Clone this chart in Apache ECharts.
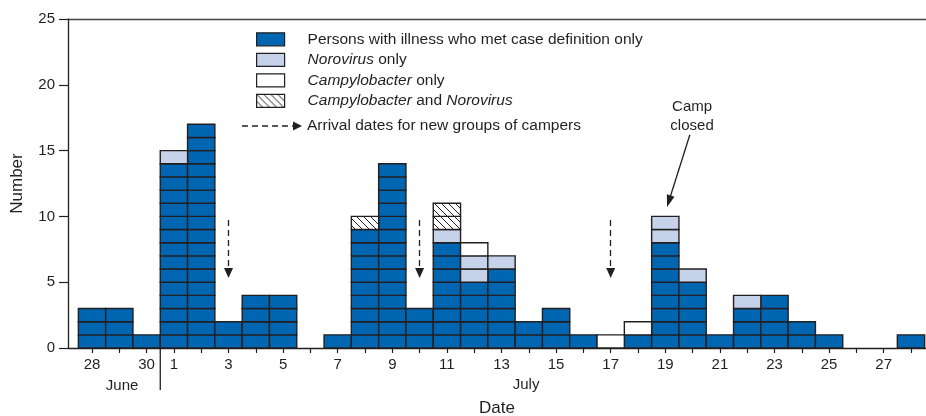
<!DOCTYPE html>
<html><head><meta charset="utf-8">
<script src="https://cdn.jsdelivr.net/npm/echarts@6/dist/echarts.min.js"></script>
<style>html,body{margin:0;padding:0;background:#fff}#c{width:926px;height:416px}</style>
</head><body><div id="c"></div>
<script>
// ---- data (index 0 = June 28 ... index 30 = July 28) ----
const dayLabels = ['28','29','30','1','2','3','4','5','6','7','8','9','10','11','12','13','14','15','16','17','18','19','20','21','22','23','24','25','26','27','28'];
const labelledDays = [0,2,3,5,7,9,11,13,15,17,19,21,23,25,27,29];
const caseOnly      = [3,3,1,14,17,2,4,4,0,1,9,14,3,8,5,6,2,3,1,0,1,8,5,1,3,4,2,1,0,0,1];
const norovirusOnly = [0,0,0,1,0,0,0,0,0,0,0,0,0,1,2,1,0,0,0,0,0,2,1,0,1,0,0,0,0,0,0];
const campyNoro     = [0,0,0,0,0,0,0,0,0,0,1,0,0,2,0,0,0,0,0,0,0,0,0,0,0,0,0,0,0,0,0];
const campyOnly     = [0,0,0,0,0,0,0,0,0,0,0,0,0,0,1,0,0,0,0,1,1,0,0,0,0,0,0,0,0,0,0];
const arrivalDays = [5,12,19];       // July 3, 10, 17
const campClosedDay = 21;            // July 19
const yTicks = {min:0, max:25, interval:5};

const INK = '#231f20';
const FONT = 'Liberation Sans, Arial, Helvetica, sans-serif';
const BLUE = '#0066b2';
const LIGHT = '#c6d2ea';
const LEGEND_FS = 15.5;

function hatchCanvas(){
  const s = 7, c = document.createElement('canvas'); c.width = s; c.height = s;
  const g = c.getContext('2d'); g.fillStyle = '#fff'; g.fillRect(0,0,s,s);
  g.strokeStyle = INK; g.lineWidth = 1;
  g.beginPath(); g.moveTo(0,0); g.lineTo(s,s); g.moveTo(-2,s-2); g.lineTo(2,s+2); g.moveTo(s-2,-2); g.lineTo(s+2,2); g.stroke();
  return c;
}
const HATCH = {image: hatchCanvas(), repeat: 'repeat'};

const layers = [
  {name:'Persons with illness who met case definition only', values: caseOnly, fill: BLUE},
  {name:'Norovirus only', values: norovirusOnly, fill: LIGHT},
  {name:'Campylobacter and Norovirus', values: campyNoro, fill: HATCH},
  {name:'Campylobacter only', values: campyOnly, fill: '#fff'}
];
const base = caseOnly.map(() => 0);
const series = layers.map((L, li) => {
  const data = [];
  L.values.forEach((n, i) => { if (n > 0) data.push([i, n, base[i]]); base[i] += n; });
  return {
    type: 'custom', name: L.name, data: data,
    itemStyle: {color: L.fill === HATCH ? '#fff' : L.fill},
    renderItem: function(params, api){
      const i = api.value(0), n = api.value(1), b = api.value(2);
      const w = api.size([1, 0])[0];
      const ch = [];
      for (let k = 0; k < n; k++) {
        const p0 = api.coord([i, b + k]), p1 = api.coord([i, b + k + 1]);
        ch.push({type:'rect', shape:{x: p0[0] - w/2, y: p1[1], width: w, height: p0[1] - p1[1]},
          style:{fill: L.fill, stroke: INK, lineWidth: 1.4}});
      }
      return {type:'group', children: ch};
    }
  };
});
// arrival arrows
series[0].markLine = {
  silent: true, animation: false, symbol: ['none','triangle'], symbolSize: [9,10],
  label: {show:false},
  lineStyle: {type:[6,4], color: INK, width: 1.3},
  data: arrivalDays.map(d => [{coord:[d, 9.73]}, {coord:[d, 5.7]}])
};
// camp closed arrow
series[1].markLine = {
  silent: true, animation: false, symbol: ['none','triangle'], symbolSize: [8,12],
  label: {show:false},
  lineStyle: {type:'solid', color: INK, width: 1.3},
  data: [[{coord:[campClosedDay + 0.9, 16.2]}, {coord:[campClosedDay + 0.13, 11.15]}]]
};

const chart = echarts.init(document.getElementById('c'));
const option = {
  animation: false,
  textStyle: {fontFamily: FONT, color: INK},
  grid: {left: 68, right: 0, top: 19, bottom: 68, containLabel: false, outerBoundsMode: 'none'},
  legend: {
    orient: 'vertical', left: 256, top: 31.3, padding: 0, itemWidth: 28, itemHeight: 13, itemGap: 4.5,
    icon: 'rect', selectedMode: false,
    data: [
      {name: layers[0].name, itemStyle:{color: BLUE, borderColor: INK, borderWidth: 1.2}},
      {name: layers[1].name, itemStyle:{color: LIGHT, borderColor: INK, borderWidth: 1.2}},
      {name: layers[3].name, itemStyle:{color: '#fff', borderColor: INK, borderWidth: 1.2}},
      {name: layers[2].name, itemStyle:{color: HATCH, borderColor: INK, borderWidth: 1.2}}
    ],
    formatter: function(name){
      const m = {'Norovirus only':'{i|Norovirus} only', 'Campylobacter only':'{i|Campylobacter} only',
        'Campylobacter and Norovirus':'{i|Campylobacter} and {i|Norovirus}'};
      return m[name] || name;
    },
    textStyle: {fontSize: LEGEND_FS, color: INK, fontFamily: FONT, lineHeight: 13, padding: [0,0,0,18],
      rich: {i: {fontStyle: 'italic', fontSize: LEGEND_FS, color: INK, fontFamily: FONT, lineHeight: 13}}}
  },
  xAxis: [{
    type: 'value', min: -0.88, max: 30.55, position: 'bottom',
    name: 'Date', nameLocation: 'middle', nameGap: 52, nameTextStyle: {fontSize: 17, color: INK},
    axisLine: {show: true, onZero: false, lineStyle: {color: INK, width: 1.3}},
    axisTick: {show: true, length: 5, lineStyle: {color: INK, width: 1.2}, customValues: dayLabels.map((d, i) => i)},
    axisLabel: {fontSize: 15, color: INK, margin: 9, customValues: labelledDays, formatter: v => dayLabels[Math.round(v)]},
    splitLine: {show: false}
  }, {
    type: 'value', min: -0.88, max: 30.55, position: 'top',
    axisLine: {show: true, onZero: false, lineStyle: {color: '#444', width: 1.3}},
    axisTick: {show: false}, axisLabel: {show: false}, splitLine: {show: false}
  }],
  yAxis: {
    type: 'value', min: yTicks.min, max: yTicks.max, interval: yTicks.interval, position: 'left',
    name: 'Number', nameLocation: 'middle', nameGap: 42, nameRotate: 90, nameTextStyle: {fontSize: 17, color: INK},
    axisLine: {show: true, onZero: false, lineStyle: {color: INK, width: 1.3}},
    axisTick: {show: true, length: 9, lineStyle: {color: INK, width: 1.2}},
    axisLabel: {fontSize: 15, color: INK, margin: 13},
    splitLine: {show: false}
  },
  series: series
};
chart.setOption(option);

const px = v => chart.convertToPixel({xAxisIndex: 0}, v);
const y0 = chart.convertToPixel({yAxisIndex: 0}, 0);
const ptClosed = chart.convertToPixel({xAxisIndex: 0, yAxisIndex: 0}, [campClosedDay + 0.98, 17.63]);
const divX = px(2.5);
chart.setOption({graphic: [
  {type:'line', silent:true, shape:{x1: divX, y1: y0, x2: divX, y2: y0 + 42}, style:{stroke: INK, lineWidth: 1.3}},
  {type:'text', silent:true, x: px(1.1), y: y0 + 38, style:{text:'June', fontSize: 15, fontFamily: FONT, fill: INK, align:'center', verticalAlign:'middle'}},
  {type:'text', silent:true, x: px(15.9), y: y0 + 37, style:{text:'July', fontSize: 15, fontFamily: FONT, fill: INK, align:'center', verticalAlign:'middle'}},
  {type:'text', silent:true, x: ptClosed[0], y: ptClosed[1], style:{text:'Camp\nclosed', fontSize: 15, lineHeight: 19, fontFamily: FONT, fill: INK, align:'center', verticalAlign:'middle'}},
  // legend entry for arrival arrows
  {type:'line', silent:true, shape:{x1: 242, y1: 126, x2: 294, y2: 126}, style:{stroke: INK, lineWidth: 1.3, lineDash: [6,4]}},
  {type:'polygon', silent:true, shape:{points: [[293,121.5],[302,126],[293,130.5]]}, style:{fill: INK}},
  {type:'text', silent:true, x: 307, y: 126, style:{text:'Arrival dates for new groups of campers', fontSize: LEGEND_FS, fontFamily: FONT, fill: INK, verticalAlign:'middle'}}
]});
</script></body></html>
